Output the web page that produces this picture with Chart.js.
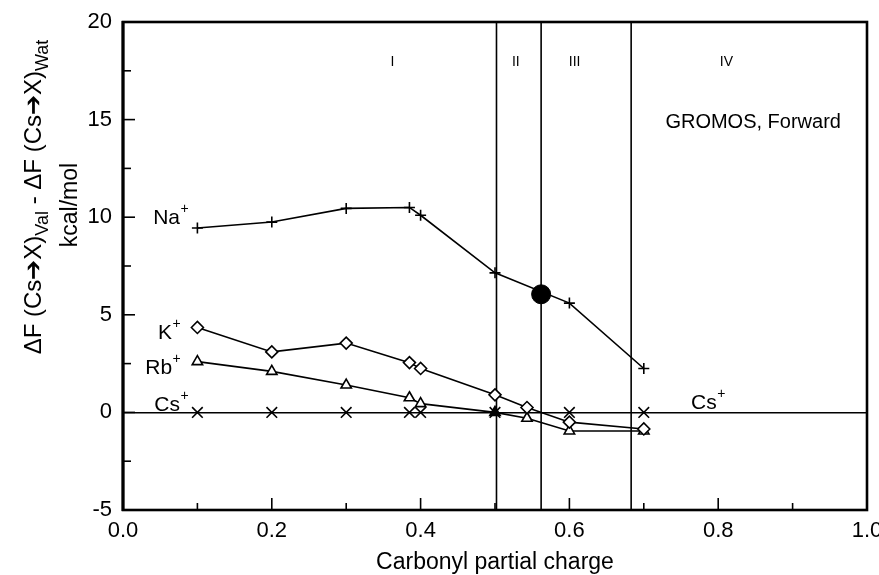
<!DOCTYPE html>
<html>
<head>
<meta charset="utf-8">
<script src="https://cdn.jsdelivr.net/npm/chart.js@4.4.1/dist/chart.umd.min.js"></script>
<style>
  html, body { margin: 0; padding: 0; background: #fff; }
  #wrap { width: 879px; height: 575px; position: relative; }
</style>
</head>
<body>
<div id="wrap"><canvas id="chart"></canvas></div>
<script>
// carbonyl partial charge (x) and free energy difference (kcal/mol) per ion
const naCharges = [0.1, 0.2, 0.3, 0.385, 0.4, 0.5, 0.6, 0.7];
const naValues  = [9.45, 9.75, 10.45, 10.5, 10.1, 7.15, 5.6, 2.25];
const kCharges  = [0.1, 0.2, 0.3, 0.385, 0.4, 0.5, 0.543, 0.6, 0.7];
const kValues   = [4.35, 3.1, 3.55, 2.55, 2.25, 0.9, 0.25, -0.5, -0.85];
const rbCharges = [0.1, 0.2, 0.3, 0.385, 0.4, 0.5, 0.543, 0.6, 0.7];
const rbValues  = [2.6, 2.1, 1.4, 0.75, 0.45, 0.0, -0.3, -0.95, -0.95];
const csCharges = [0.1, 0.2, 0.3, 0.385, 0.4, 0.5, 0.6, 0.7];
const csValues  = [0, 0, 0, 0, 0, 0, 0, 0];

// marked point where the Na+ curve crosses into region III
const markCharge = [0.562];
const markValue  = [6.05];

// selectivity regions
const boundaries    = [0.502, 0.562, 0.683];
const regionNames   = ['I', 'II', 'III', 'IV'];
const regionCenters = [0.362, 0.528, 0.607, 0.811];

const xTickLabels = [0.0, 0.2, 0.4, 0.6, 0.8, 1.0];
const yTickLabels = [-5, 0, 5, 10, 15, 20];

const FONT = '"Liberation Sans", Arial, Helvetica, sans-serif';
Chart.defaults.font.family = FONT;
Chart.defaults.color = '#000';

function pts(xs, ys) {
  return xs.map((x, i) => ({ x: x, y: ys[i] }));
}
function isLabelled(v, list) {
  return list.some(t => Math.abs(t - v) < 1e-6);
}

const seriesStyle = {
  showLine: true,
  borderColor: '#000',
  borderWidth: 1.6,
  pointBorderColor: '#000',
  pointBorderWidth: 1.6,
  pointBackgroundColor: '#fff',
  tension: 0
};

const datasets = [
  Object.assign({}, seriesStyle, { label: 'Na+', data: pts(naCharges, naValues), pointStyle: 'cross', pointRadius: 5.5 }),
  Object.assign({}, seriesStyle, { label: 'K+', data: pts(kCharges, kValues), pointStyle: 'rectRot', pointRadius: 6 }),
  Object.assign({}, seriesStyle, {
    label: 'Rb+', data: pts(rbCharges, rbValues), pointStyle: 'triangle', pointRadius: 6,
    pointBackgroundColor: rbCharges.map(c => c === 0.5 ? '#000' : '#fff')
  }),
  Object.assign({}, seriesStyle, { label: 'Cs+', data: pts(csCharges, csValues), showLine: false, pointStyle: 'crossRot', pointRadius: 7.5 }),
  { label: 'mark', data: pts(markCharge, markValue), showLine: false, pointStyle: 'circle', pointRadius: 9.5,
    pointBackgroundColor: '#000', pointBorderColor: '#000' }
];

// vertical region boundaries run the full height of the y scale
boundaries.forEach(b => {
  datasets.push({
    label: 'boundary', data: [{ x: b, y: -5 }, { x: b, y: 20 }], showLine: true,
    borderColor: '#000', borderWidth: 1.6, pointRadius: 0
  });
});

// frame, inward tick marks and all free text
const annotations = {
  id: 'annotations',
  afterDatasetsDraw(chart) {
    const ctx = chart.ctx;
    const { left, right, top, bottom } = chart.chartArea;
    const xs = chart.scales.x, ys = chart.scales.y;
    ctx.save();
    ctx.strokeStyle = '#000';
    ctx.fillStyle = '#000';

    ctx.lineWidth = 2.6;
    ctx.strokeRect(left, top, right - left, bottom - top);
    ctx.lineWidth = 3;
    ctx.beginPath(); ctx.moveTo(left, top - 1); ctx.lineTo(left, bottom + 1); ctx.stroke();

    ctx.lineWidth = 1.6;
    xs.ticks.forEach(t => {
      const px = xs.getPixelForValue(t.value);
      const len = isLabelled(t.value, xTickLabels) ? 12 : 7;
      ctx.beginPath(); ctx.moveTo(px, bottom); ctx.lineTo(px, bottom - len); ctx.stroke();
    });
    ys.ticks.forEach(t => {
      const py = ys.getPixelForValue(t.value);
      const len = isLabelled(t.value, yTickLabels) ? 12 : 8;
      ctx.beginPath(); ctx.moveTo(left, py); ctx.lineTo(left + len, py); ctx.stroke();
    });

    // region numerals
    ctx.font = '14px ' + FONT;
    ctx.textAlign = 'center';
    ctx.textBaseline = 'middle';
    regionNames.forEach((n, i) => {
      ctx.fillText(n, xs.getPixelForValue(regionCenters[i]), ys.getPixelForValue(17.95));
    });
    ctx.font = '20px ' + FONT;
    ctx.fillText('GROMOS, Forward', xs.getPixelForValue(0.847), ys.getPixelForValue(14.85));

    // ion labels with superscript charge
    const ionLabels = [
      { t: 'Na', x: 0.0766, y: 9.95 },
      { t: 'K',  x: 0.066,  y: 4.05 },
      { t: 'Rb', x: 0.066,  y: 2.25 },
      { t: 'Cs', x: 0.0766, y: 0.36 },
      { t: 'Cs', x: 0.798,  y: 0.46 }
    ];
    ionLabels.forEach(l => {
      const px = xs.getPixelForValue(l.x), py = ys.getPixelForValue(l.y);
      ctx.font = '21px ' + FONT;
      ctx.textAlign = 'right';
      ctx.textBaseline = 'middle';
      ctx.fillText(l.t, px, py);
      ctx.font = '14px ' + FONT;
      ctx.textAlign = 'left';
      ctx.fillText('+', px + 0.5, py - 9);
    });

    // y axis title, drawn piecewise for the subscripts
    const main = '24px ' + FONT, sub = '18px ' + FONT;
    const parts = [
      { t: '\u0394F (Cs', f: main, dy: 0 },
      { t: '\u2794', f: main, dy: 0 },
      { t: 'X)', f: main, dy: 0 },
      { t: 'Val', f: sub, dy: 7 },
      { t: ' - \u0394F (Cs', f: main, dy: 0 },
      { t: '\u2794', f: main, dy: 0 },
      { t: 'X)', f: main, dy: 0 },
      { t: 'Wat', f: sub, dy: 7 }
    ];
    let total = 0;
    parts.forEach(p => { ctx.font = p.f; p.w = ctx.measureText(p.t).width; total += p.w; });
    ctx.translate(41, 197);
    ctx.rotate(-Math.PI / 2);
    ctx.textAlign = 'left';
    ctx.textBaseline = 'alphabetic';
    let cx = -total / 2;
    parts.forEach(p => {
      ctx.font = p.f;
      ctx.fillText(p.t, cx, p.dy);
      cx += p.w;
    });
    ctx.font = '23px ' + FONT;
    ctx.textAlign = 'center';
    ctx.fillText('kcal/mol', -8, 36);
    ctx.restore();
  }
};

new Chart(document.getElementById('chart'), {
  type: 'scatter',
  data: { datasets: datasets },
  options: {
    responsive: true,
    maintainAspectRatio: false,
    animation: false,
    layout: { padding: { top: 22, right: 12, left: 0, bottom: 0 } },
    plugins: {
      legend: { display: false },
      tooltip: { enabled: false }
    },
    scales: {
      x: {
        type: 'linear',
        min: 0,
        max: 1,
        afterFit: s => { s.height = 65; s.paddingLeft = 0; s.paddingRight = 0; },
        grid: { display: false, drawTicks: false },
        border: { display: false },
        title: { display: true, text: 'Carbonyl partial charge', font: { size: 23 }, padding: { top: 4, bottom: -1 } },
        ticks: {
          stepSize: 0.1,
          autoSkip: false,
          maxRotation: 0,
          padding: 8,
          font: { size: 22 },
          callback: v => isLabelled(v, xTickLabels) ? v.toFixed(1) : ''
        }
      },
      y: {
        min: -5,
        max: 20,
        afterFit: s => { s.width = 123; s.paddingTop = 0; s.paddingBottom = 0; },
        grid: {
          drawTicks: false,
          color: c => (c.tick && c.tick.value === 0) ? '#000' : 'rgba(0,0,0,0)',
          lineWidth: 1.5
        },
        border: { display: false },
        ticks: {
          stepSize: 2.5,
          autoSkip: false,
          padding: 11,
          font: { size: 22 },
          callback: v => isLabelled(v, yTickLabels) ? String(v) : ''
        }
      }
    }
  },
  plugins: [annotations]
});
</script>
</body>
</html>
